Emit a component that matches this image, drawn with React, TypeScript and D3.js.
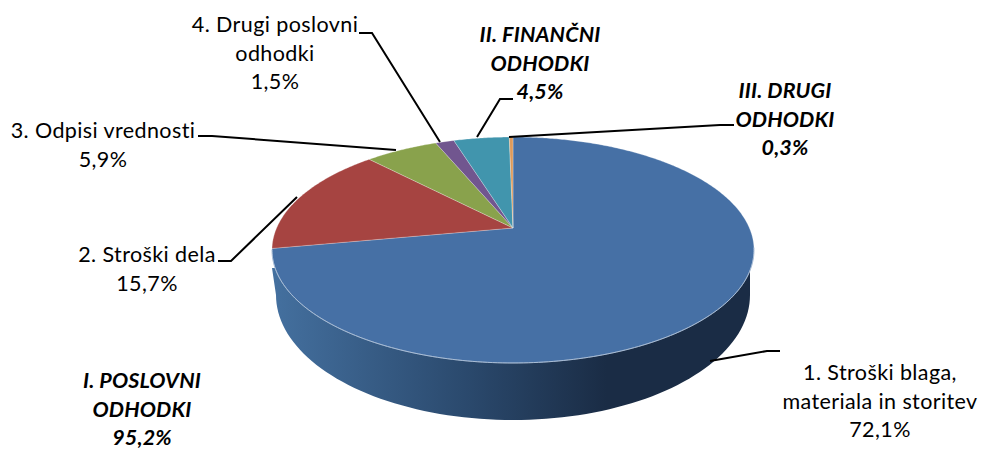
import React from "react";
import * as d3 from "d3";

const categories = ["1. Stroški blaga, materiala in storitev", "2. Stroški dela", "3. Odpisi vrednosti", "4. Drugi poslovni odhodki", "II. FINANČNI ODHODKI", "III. DRUGI ODHODKI"];
const values = [72.1, 15.7, 5.9, 1.5, 4.5, 0.3];
const colors = ["#4670a5", "#a64441", "#89a24c", "#71568f", "#4195ad", "#dd9a5b"];

const labelLines = [
  ["1. Stroški blaga,", "materiala in storitev", "72,1%"],
  ["2. Stroški dela", "15,7%"],
  ["3. Odpisi vrednosti", "5,9%"],
  ["4. Drugi poslovni", "odhodki", "1,5%"],
  ["II. FINANČNI", "ODHODKI", "4,5%"],
  ["III. DRUGI", "ODHODKI", "0,3%"],
  ["I. POSLOVNI", "ODHODKI", "95,2%"],
];
const labelX = [880, 147, 103, 275, 540, 785, 142];
const labelY = [380, 262, 138, 32, 42, 98, 388];
const labelBold = [false, false, false, false, true, true, true];
const leaders: [number, number][][] = [
  [[710, 361], [767, 351], [780, 351]],
  [[297, 197], [231, 261], [218, 261]],
  [[198, 136], [212, 136], [396, 150]],
  [[359, 33], [372, 33], [440, 142]],
  [[477, 137], [500, 99], [513, 99]],
  [[509, 137], [720, 125], [734, 125]],
];

// perspective projection of the pie disc
const cx = 513, apexY = 228, R = 236.4, B = 108.7, k = 0.1947;
const project = (a: number): [number, number] => {
  const u = Math.sin(a), v = Math.cos(a), w = 1 / (1 + k * v);
  return [cx + R * u * w, apexY - B * v * w];
};
const line = d3.line<[number, number]>().x(d => d[0]).y(d => d[1]);

const arcs = d3.pie<number>().sort(null)(values);
const slicePath = (a0: number, a1: number) => {
  const n = Math.max(2, Math.ceil((a1 - a0) / 0.01));
  const pts = d3.range(n + 1).map(i => project(a0 + ((a1 - a0) * i) / n));
  return line([[cx, apexY], ...pts]) + "Z";
};

// lower rim of the side wall
const bottomCy = 295, bottomRx = 237, bottomRy = 125;
const sidePts: [number, number][] = d3.range(0, 181, 2).map(d => {
  const t = (d * Math.PI) / 180;
  return [cx - bottomRx * Math.cos(t), bottomCy + bottomRy * Math.sin(t)];
});
const sidePath = line([[272, 268], ...sidePts, [750, 268]]) + "Z";
const frontRim = d3.range(100, 260, 1).map(d => project((d * Math.PI) / 180));

const font = "Lato, Carlito, Calibri, sans-serif";
const lineGap = 28.5;

export default function App() {
  return (
    <svg width={983} height={450} style={{ position: "absolute", left: 0, top: 0, background: "#fff" }}>
      <defs>
        <linearGradient id="side" gradientUnits="userSpaceOnUse" x1={272} x2={750} y1={0} y2={0}>
          <stop offset="0" stopColor="#44709f" />
          <stop offset="0.4" stopColor="#2b4a6e" />
          <stop offset="0.7" stopColor="#1a2c45" />
          <stop offset="1" stopColor="#1a2c45" />
        </linearGradient>
      </defs>
      <path d={sidePath} fill="url(#side)" />
      {arcs.map((a, i) => (
        <path key={categories[i]} d={slicePath(a.startAngle, a.endAngle)} fill={colors[i]} stroke="#ffffff" strokeOpacity={0.25} strokeWidth={1} strokeLinejoin="round" />
      ))}
      <path d={line(frontRim) ?? ""} fill="none" stroke="#a9bdd6" strokeWidth={1} />
      {leaders.map((l, i) => (
        <path key={i} d={line(l) ?? ""} fill="none" stroke="#000" strokeWidth={2} />
      ))}
      {labelLines.map((lines, i) => (
        <text key={i} textAnchor="middle" fontFamily={font} fontSize={21.5} letterSpacing={labelBold[i] ? 0.15 : 0.4} fontWeight={labelBold[i] ? 700 : 400} fontStyle={labelBold[i] ? "italic" : "normal"} fill="#000">
          {lines.map((t, j) => (
            <tspan key={j} x={labelX[i]} y={labelY[i] + j * lineGap}>{t}</tspan>
          ))}
        </text>
      ))}
    </svg>
  );
}
